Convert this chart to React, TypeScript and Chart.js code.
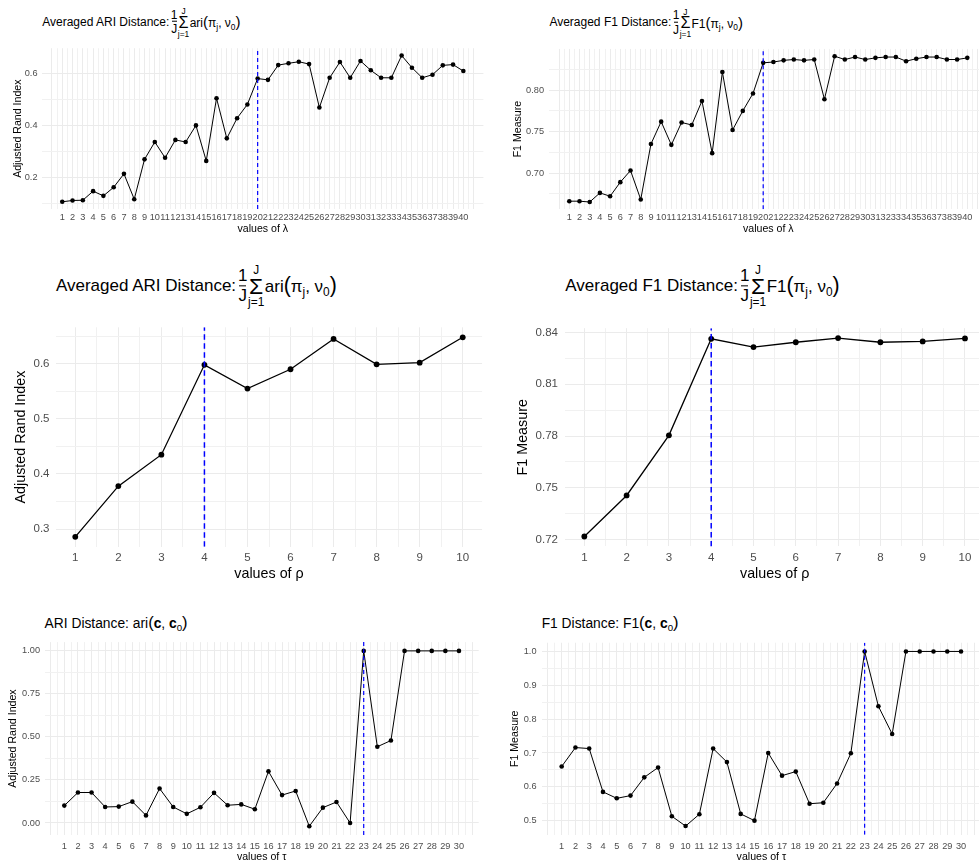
import React, { useEffect, useRef } from 'react';
import { Chart, registerables } from 'chart.js';

Chart.register(...registerables);

const FONT = '"Liberation Sans", Arial, Helvetica, sans-serif';

// ---------- data ----------
const lambdaValues = [1, 2, 3, 4, 5, 6, 7, 8, 9, 10, 11, 12, 13, 14, 15, 16, 17, 18, 19, 20, 21, 22, 23, 24, 25, 26, 27, 28, 29, 30, 31, 32, 33, 34, 35, 36, 37, 38, 39, 40];
const ariLambda = [0.106, 0.111, 0.112, 0.147, 0.129, 0.162, 0.214, 0.116, 0.270, 0.337, 0.276, 0.345, 0.337, 0.401, 0.264, 0.506, 0.351, 0.429, 0.482, 0.582, 0.577, 0.634, 0.641, 0.647, 0.638, 0.470, 0.585, 0.646, 0.585, 0.650, 0.614, 0.585, 0.585, 0.671, 0.624, 0.585, 0.597, 0.633, 0.636, 0.611];
const f1Lambda = [0.666, 0.666, 0.665, 0.676, 0.672, 0.689, 0.703, 0.668, 0.735, 0.762, 0.734, 0.761, 0.758, 0.787, 0.724, 0.822, 0.752, 0.775, 0.796, 0.833, 0.834, 0.836, 0.837, 0.836, 0.837, 0.789, 0.841, 0.837, 0.840, 0.837, 0.839, 0.840, 0.840, 0.835, 0.838, 0.840, 0.840, 0.837, 0.837, 0.839];

const rhoValues = [1, 2, 3, 4, 5, 6, 7, 8, 9, 10];
const ariRho = [0.286, 0.378, 0.435, 0.598, 0.555, 0.590, 0.645, 0.599, 0.602, 0.648];
const f1Rho = [0.7217, 0.7455, 0.7804, 0.8364, 0.8316, 0.8344, 0.8368, 0.8344, 0.8349, 0.8366];

const tauValues = [1, 2, 3, 4, 5, 6, 7, 8, 9, 10, 11, 12, 13, 14, 15, 16, 17, 18, 19, 20, 21, 22, 23, 24, 25, 26, 27, 28, 29, 30];
const ariTau = [0.101, 0.177, 0.177, 0.093, 0.095, 0.124, 0.044, 0.200, 0.093, 0.053, 0.091, 0.175, 0.103, 0.108, 0.080, 0.300, 0.162, 0.186, -0.019, 0.089, 0.122, 0.000, 1.0, 0.443, 0.479, 1.0, 1.0, 1.0, 1.0, 1.0];
const f1Tau = [0.660, 0.716, 0.713, 0.585, 0.566, 0.574, 0.628, 0.657, 0.513, 0.484, 0.519, 0.713, 0.673, 0.520, 0.500, 0.700, 0.633, 0.645, 0.550, 0.553, 0.610, 0.699, 1.0, 0.838, 0.756, 1.0, 1.0, 1.0, 1.0, 1.0];

const lambdaCut = 20;
const rhoCut = 4;
const tauCut = 23;

// tick labels / gridline values
const ariLambdaMajor = [0.2, 0.4, 0.6];
const ariLambdaMinor = [0.1, 0.3, 0.5];
const f1LambdaMajor = [0.70, 0.75, 0.80];
const f1LambdaMinor = [0.675, 0.725, 0.775, 0.825];
const ariRhoMajor = [0.3, 0.4, 0.5, 0.6];
const ariRhoMinor = [0.35, 0.45, 0.55, 0.65];
const f1RhoMajor = [0.72, 0.75, 0.78, 0.81, 0.84];
const f1RhoMinor = [0.735, 0.765, 0.795, 0.825];
const ariTauMajor = [0.0, 0.25, 0.5, 0.75, 1.0];
const ariTauMinor = [0.125, 0.375, 0.625, 0.875];
const f1TauMajor = [0.5, 0.6, 0.7, 0.8, 0.9, 1.0];
const f1TauMinor = [0.55, 0.65, 0.75, 0.85, 0.95];

type Rect = { l: number; t: number; r: number; b: number };
type PanelCfg = {
  x: number[]; y: number[]; cut: number;
  yMajor: number[]; yMinor: number[]; yDec: number;
  xGridFull: boolean;
  xTitle: string; yTitle: string;
  canvas: Rect; area: Rect;
  yLabelRight: number; xLabelCY: number; yTitleCX: number; xTitleCY: number;
  tickSize: number; axisSize: number;
  lw: number; pr: number; vlw: number; dash: number[];
};

function Panel({ c }: { c: PanelCfg }) {
  const ref = useRef<HTMLCanvasElement>(null);
  const W = c.canvas.r - c.canvas.l;
  const H = c.canvas.b - c.canvas.t;
  useEffect(() => {
    if (!ref.current) return;
    const n = c.x.length;
    const xr = c.x[n - 1] - c.x[0];
    const xmin = c.x[0] - 0.05 * xr;
    const xmax = c.x[n - 1] + 0.05 * xr;
    const y0 = Math.min(...c.y);
    const y1 = Math.max(...c.y);
    const yr = y1 - y0;
    const ymin = y0 - 0.05 * yr;
    const ymax = y1 + 0.05 * yr;
    const gStart = c.xGridFull ? c.x[0] - 1 : c.x[0];
    const gEnd = c.xGridFull ? c.x[n - 1] + 1 : c.x[n - 1];
    const xGrid: number[] = [];
    for (let k = gStart * 2; k <= gEnd * 2; k++) xGrid.push(k / 2);
    const yGrid = [...c.yMajor, ...c.yMinor].sort((a, b) => a - b);
    const tickLH = c.tickSize * 1.2;
    const axisLH = c.axisSize * 1.2;
    const isMajorX = (v: number) => Number.isInteger(v);
    const isMajorY = (v: number) => c.yMajor.includes(v);
    const chart = new Chart(ref.current, {
      type: 'line',
      data: {
        datasets: [
          {
            data: [{ x: c.cut, y: ymin }, { x: c.cut, y: ymax }],
            borderColor: '#0000FF', borderWidth: c.vlw, borderDash: c.dash,
            pointRadius: 0, order: 0,
          },
          {
            data: c.x.map((x, i) => ({ x, y: c.y[i] })),
            borderColor: '#000000', borderWidth: c.lw, tension: 0,
            pointRadius: c.pr, pointBackgroundColor: '#000000', pointBorderWidth: 0,
            order: 1,
          },
        ],
      },
      options: {
        animation: false,
        responsive: false,
        maintainAspectRatio: false,
        devicePixelRatio: 1,
        events: [],
        layout: { padding: { left: 0, top: c.area.t - c.canvas.t, right: c.canvas.r - c.area.r, bottom: 0 } },
        plugins: { legend: { display: false }, tooltip: { enabled: false }, title: { display: false } },
        scales: {
          x: {
            type: 'linear', min: xmin, max: xmax,
            afterFit: (s: any) => { s.height = c.canvas.b - c.area.b; },
            afterBuildTicks: (s: any) => { s.ticks = xGrid.map((v) => ({ value: v })); },
            border: { display: false },
            grid: {
              drawTicks: false,
              color: (ctx: any) => (isMajorX(ctx.tick.value) ? '#EBEBEB' : '#F1F1F1'),
              lineWidth: 1,
            },
            ticks: {
              autoSkip: false, maxRotation: 0, minRotation: 0,
              padding: c.xLabelCY - c.area.b - tickLH / 2,
              color: '#4D4D4D',
              font: { family: FONT, size: c.tickSize },
              callback: (v: any) => (Number.isInteger(v) && v >= c.x[0] && v <= c.x[n - 1] ? String(v) : ''),
            },
            title: {
              display: true, text: c.xTitle, color: '#000000',
              font: { family: FONT, size: c.axisSize },
              padding: { top: 0, bottom: c.canvas.b - c.xTitleCY - axisLH / 2 },
            },
          },
          y: {
            type: 'linear', min: ymin, max: ymax,
            afterFit: (s: any) => { s.width = c.area.l - c.canvas.l; },
            afterBuildTicks: (s: any) => { s.ticks = yGrid.map((v) => ({ value: v })); },
            border: { display: false },
            grid: {
              drawTicks: false,
              color: (ctx: any) => (isMajorY(ctx.tick.value) ? '#EBEBEB' : '#F1F1F1'),
              lineWidth: 1,
            },
            ticks: {
              autoSkip: false,
              padding: c.area.l - c.yLabelRight,
              color: '#4D4D4D',
              font: { family: FONT, size: c.tickSize },
              callback: (v: any) => (isMajorY(v) ? Number(v).toFixed(c.yDec) : ''),
            },
            title: {
              display: true, text: c.yTitle, color: '#000000',
              font: { family: FONT, size: c.axisSize },
              padding: { top: c.yTitleCX - c.canvas.l - axisLH / 2, bottom: 0 },
            },
          },
        },
      } as any,
    });
    return () => chart.destroy();
  }, []);
  return (
    <canvas
      ref={ref}
      width={W}
      height={H}
      style={{ position: 'absolute', left: c.canvas.l, top: c.canvas.t, width: W, height: H }}
    />
  );
}

const sub = (t: string) => (
  <span style={{ fontSize: '0.7em', position: 'relative', top: '0.3em' }}>{t}</span>
);

function AvgTitle({ label, fn, size, left, cy }: { label: string; fn: string; size: number; left: number; cy: number }) {
  const bar = Math.max(1, size / 14);
  return (
    <div
      style={{
        position: 'absolute', left, top: cy, transform: 'translateY(-50%)',
        fontFamily: FONT, fontSize: size, color: '#000', display: 'flex', alignItems: 'center',
        whiteSpace: 'nowrap', lineHeight: 1,
      }}
    >
      <span>{label}</span>
      <span style={{ display: 'inline-flex', flexDirection: 'column', alignItems: 'center', margin: '0 0 0 0.12em' }}>
        <span>1</span>
        <span style={{ width: '0.4em', borderTop: `${bar}px solid #000`, margin: '0.06em 0' }} />
        <span>J</span>
      </span>
      <span
        style={{
          display: 'inline-flex', flexDirection: 'column', alignItems: 'center', margin: '0 0.03em',
          position: 'relative', top: '0.08em',
        }}
      >
        <span style={{ fontSize: '0.7em' }}>J</span>
        <span style={{ fontSize: '1.35em', lineHeight: 0.85 }}>Σ</span>
        <span style={{ fontSize: '0.7em' }}>j=1</span>
      </span>
      <span>
        {fn}
        <span style={{ fontSize: '1.25em' }}>(</span>π{sub('j')}, ν{sub('0')}
        <span style={{ fontSize: '1.25em' }}>)</span>
      </span>
    </div>
  );
}

function SimpleTitle({ label, fn, size, left, cy }: { label: string; fn: string; size: number; left: number; cy: number }) {
  return (
    <div
      style={{
        position: 'absolute', left, top: cy, transform: 'translateY(-50%)',
        fontFamily: FONT, fontSize: size, color: '#000', whiteSpace: 'nowrap', lineHeight: 1.2,
      }}
    >
      {label}
      {fn}
      <span style={{ fontSize: '1.2em' }}>(</span>
      <b>c</b>, <b>c</b>
      {sub('0')}
      <span style={{ fontSize: '1.2em' }}>)</span>
    </div>
  );
}

const topCommon = { tickSize: 9.2, axisSize: 10.6, lw: 1, pr: 2.3, vlw: 1.2, dash: [4, 3] };
const midCommon = { tickSize: 11.5, axisSize: 14.3, lw: 1.3, pr: 2.9, vlw: 1.5, dash: [5.5, 3.5] };
const botCommon = { tickSize: 9.2, axisSize: 10.6, lw: 1, pr: 2.3, vlw: 1.2, dash: [4, 3] };

const panels: PanelCfg[] = [
  {
    ...topCommon, x: lambdaValues, y: ariLambda, cut: lambdaCut,
    yMajor: ariLambdaMajor, yMinor: ariLambdaMinor, yDec: 1, xGridFull: true,
    xTitle: 'values of λ', yTitle: 'Adjusted Rand Index',
    canvas: { l: 0, t: 38, r: 489, b: 240 }, area: { l: 42.2, t: 46.3, r: 483.4, b: 209.1 },
    yLabelRight: 37.5, xLabelCY: 217.7, yTitleCX: 18.3, xTitleCY: 229.3,
  },
  {
    ...topCommon, x: lambdaValues, y: f1Lambda, cut: lambdaCut,
    yMajor: f1LambdaMajor, yMinor: f1LambdaMinor, yDec: 2, xGridFull: true,
    xTitle: 'values of λ', yTitle: 'F1 Measure',
    canvas: { l: 490, t: 38, r: 992, b: 240 }, area: { l: 549.4, t: 45, r: 987.2, b: 209.3 },
    yLabelRight: 544, xLabelCY: 217.5, yTitleCX: 518.3, xTitleCY: 229.3,
  },
  {
    ...midCommon, x: rhoValues, y: ariRho, cut: rhoCut,
    yMajor: ariRhoMajor, yMinor: ariRhoMinor, yDec: 1, xGridFull: false,
    xTitle: 'values of ρ', yTitle: 'Adjusted Rand Index',
    canvas: { l: 0, t: 314, r: 489, b: 590 }, area: { l: 55.9, t: 321.3, r: 482.1, b: 546.8 },
    yLabelRight: 49.5, xLabelCY: 557.7, yTitleCX: 20.7, xTitleCY: 574,
  },
  {
    ...midCommon, x: rhoValues, y: f1Rho, cut: rhoCut,
    yMajor: f1RhoMajor, yMinor: f1RhoMinor, yDec: 2, xGridFull: false,
    xTitle: 'values of ρ', yTitle: 'F1 Measure',
    canvas: { l: 490, t: 314, r: 992, b: 590 }, area: { l: 565.3, t: 321.4, r: 984, b: 546.4 },
    yLabelRight: 558, xLabelCY: 557.7, yTitleCX: 523.3, xTitleCY: 574,
  },
  {
    ...botCommon, x: tauValues, y: ariTau, cut: tauCut,
    yMajor: ariTauMajor, yMinor: ariTauMinor, yDec: 2, xGridFull: true,
    xTitle: 'values of τ', yTitle: 'Adjusted Rand Index',
    canvas: { l: 0, t: 632, r: 489, b: 864 }, area: { l: 44.6, t: 638.4, r: 478.7, b: 835 },
    yLabelRight: 40, xLabelCY: 846.7, yTitleCX: 13.3, xTitleCY: 856.7,
  },
  {
    ...botCommon, x: tauValues, y: f1Tau, cut: tauCut,
    yMajor: f1TauMajor, yMinor: f1TauMinor, yDec: 1, xGridFull: true,
    xTitle: 'values of τ', yTitle: 'F1 Measure',
    canvas: { l: 490, t: 632, r: 992, b: 864 }, area: { l: 541.7, t: 638.3, r: 981, b: 834.8 },
    yLabelRight: 536.5, xLabelCY: 846.7, yTitleCX: 515, xTitleCY: 856.7,
  },
];

export default function App() {
  return (
    <div
      style={{
        position: 'absolute', left: 0, top: 0, width: 979, height: 864,
        overflow: 'hidden', background: '#ffffff',
      }}
    >
      <AvgTitle label="Averaged ARI Distance:" fn="ari" size={12} left={42.2} cy={21.5} />
      <AvgTitle label="Averaged F1 Distance:" fn="F1" size={12} left={549.4} cy={22} />
      <AvgTitle label="Averaged ARI Distance:" fn="ari" size={17} left={55.9} cy={286} />
      <AvgTitle label="Averaged F1 Distance:" fn="F1" size={17} left={565.3} cy={286} />
      <SimpleTitle label="ARI Distance: " fn="ari" size={13.8} left={44.6} cy={622.7} />
      <SimpleTitle label="F1 Distance: " fn="F1" size={13.8} left={541.7} cy={622.7} />
      {panels.map((p, i) => (
        <Panel key={i} c={p} />
      ))}
    </div>
  );
}
